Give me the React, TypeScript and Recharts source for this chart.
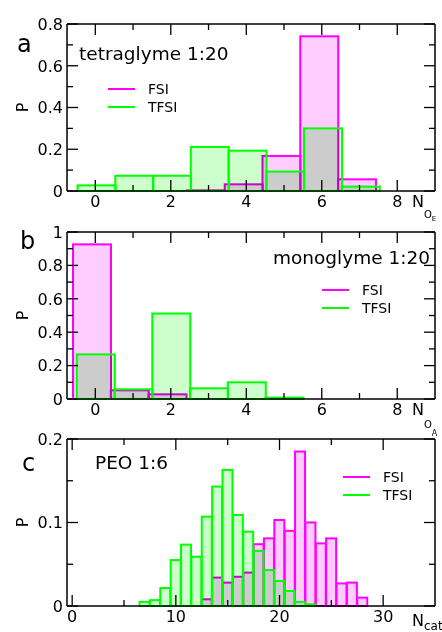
import React from "react";
import { ComposedChart, Bar, XAxis, YAxis, Legend, ReferenceLine } from "recharts";

// a: tetraglyme 1:20, coordination number by ether oxygens
const binsA = [0, 1, 2, 3, 4, 5, 6, 7];
const fsiA = [null, null, null, 0.003, 0.032, 0.168, 0.741, 0.056];
const tfsiA = [0.027, 0.073, 0.073, 0.211, 0.193, 0.093, 0.3, 0.021];

// b: monoglyme 1:20, coordination number by anion oxygens
const binsB = [0, 1, 2, 3, 4, 5];
const fsiB = [0.926, 0.052, 0.028, null, null, null];
const tfsiB = [0.267, 0.058, 0.512, 0.064, 0.1, 0.008];

// c: PEO 1:6, cation neighbours
const binsC = [7, 8, 9, 10, 11, 12, 13, 14, 15, 16, 17, 18, 19, 20, 21, 22, 23, 24, 25, 26, 27, 28];
const fsiC = [null, null, null, null, null, null, 0.008, 0.034, 0.028, 0.035, 0.04, 0.074, 0.081, 0.103, 0.09, 0.185, 0.1, 0.075, 0.081, 0.027, 0.028, 0.01];
const tfsiC = [0.005, 0.007, 0.0215, 0.055, 0.0735, 0.059, 0.107, 0.143, 0.163, 0.109, 0.089, 0.066, 0.043, 0.03, 0.018, 0.005, 0.002, null, null, null, null, null];

const xMajorAB = [0, 2, 4, 6, 8];
const xMinorAB = [1, 3, 5, 7];
const xMajorC = [0, 10, 20, 30];
const xMinorC = [5, 15, 25];
const yMajorA = [0, 0.2, 0.4, 0.6, 0.8];
const yMinorA = [0.1, 0.3, 0.5, 0.7];
const yMajorB = [0, 0.2, 0.4, 0.6, 0.8, 1];
const yMinorB = [0.1, 0.3, 0.5, 0.7, 0.9];
const yMajorC = [0, 0.1, 0.2];
const yMinorC = [0.05, 0.15];

const FONT = "DejaVu Sans";
const W = 442;
const PLOT_H = 167;
const TOP_PAD = 12;
const BOTTOM_AXIS = 30;
const LEFT_AXIS = 67;
const RIGHT_PAD = 7;
const PLOT_W = W - LEFT_AXIS - RIGHT_PAD;

const seriesStroke: Record<string, string> = { fsi: "#ff00ff", tfsi: "#00ff00" };

// inward ticks; the bottom axis also mirrors its ticks on the top edge, the left one on the right edge
function makeTick(side: "bottom" | "left", major: number[]) {
  return (p: any) => {
    const v = p.payload.value;
    const big = major.includes(v);
    const len = big ? 11 : 6;
    const x = p.x;
    const y = p.y;
    if (side === "bottom") {
      const yt = y - PLOT_H;
      return (
        <g>
          <line x1={x} y1={y} x2={x} y2={y - len} stroke="#000" strokeWidth={1.3} />
          <line x1={x} y1={yt} x2={x} y2={yt + len} stroke="#000" strokeWidth={1.3} />
          {big && (
            <text x={x} y={y + 16} textAnchor="middle" fontSize={16} fontFamily={FONT} fill="#000">
              {String(v)}
            </text>
          )}
        </g>
      );
    }
    const xr = x + PLOT_W;
    return (
      <g>
        <line x1={x} y1={y} x2={x + len} y2={y} stroke="#000" strokeWidth={1.3} />
        <line x1={xr} y1={y} x2={xr - len} y2={y} stroke="#000" strokeWidth={1.3} />
        {big && (
          <text x={x - 4} y={y} dy="0.36em" textAnchor="end" fontSize={16} fontFamily={FONT} fill="#000">
            {String(v)}
          </text>
        )}
      </g>
    );
  };
}

// fill blends (multiply) so overlapping bins turn grey; outline is drawn plainly on top
const histShape = (shift: number) => (p: any) => {
  if (!p.height || p.height <= 0 || !p.width) return <g />;
  const x = p.x + shift * p.width;
  return (
    <g>
      <rect x={x} y={p.y} width={p.width} height={p.height} fill={p.fill} stroke="none" style={{ mixBlendMode: "multiply" }} />
      <rect x={x} y={p.y} width={p.width} height={p.height} fill="none" stroke={p.stroke} strokeWidth={2} />
    </g>
  );
};

function LegendBox({ payload }: any) {
  return (
    <div style={{ fontFamily: FONT, fontSize: 14, color: "#000" }}>
      {(payload || []).map((e: any) => (
        <div key={e.value} style={{ display: "flex", alignItems: "center", height: 18 }}>
          <svg width={40} height={18}>
            <line x1={0} x2={27} y1={9} y2={9} stroke={seriesStroke[e.dataKey]} strokeWidth={2} />
          </svg>
          <span>{e.value}</span>
        </div>
      ))}
    </div>
  );
}

interface PanelProps {
  top: number;
  bins: number[];
  fsi: (number | null)[];
  tfsi: (number | null)[];
  xDomain: [number, number];
  xMajor: number[];
  xMinor: number[];
  yDomain: [number, number];
  yMajor: number[];
  yMinor: number[];
  fsiShift: number;
  tfsiShift: number;
  legendX: number;
  legendY: number;
}

function Panel(props: PanelProps) {
  const rows = props.bins.map((b, i) => ({ bin: b, fsi: props.fsi[i], tfsi: props.tfsi[i] }));
  const xTicks = [...props.xMajor, ...props.xMinor];
  const yTicks = [...props.yMajor, ...props.yMinor];
  const axisLine = { stroke: "#000", strokeWidth: 1.5 };
  const chartTop = props.top - TOP_PAD;
  return (
    <div style={{ position: "absolute", left: 0, top: chartTop }}>
      <ComposedChart
        width={W}
        height={TOP_PAD + PLOT_H + BOTTOM_AXIS}
        data={rows}
        margin={{ top: TOP_PAD, right: RIGHT_PAD, bottom: 0, left: 0 }}
        barCategoryGap={0}
        barGap={0}
      >
        <XAxis
          xAxisId="bx"
          dataKey="bin"
          type="number"
          domain={props.xDomain}
          ticks={xTicks}
          interval={0}
          tickSize={0}
          tickMargin={0}
          tickLine={false}
          axisLine={axisLine}
          height={BOTTOM_AXIS}
          tick={makeTick("bottom", props.xMajor)}
        />
        <XAxis xAxisId="tx" dataKey="bin" type="number" domain={props.xDomain} hide />
        <YAxis
          yAxisId="ly"
          type="number"
          domain={props.yDomain}
          ticks={yTicks}
          interval={0}
          tickSize={0}
          tickMargin={0}
          tickLine={false}
          axisLine={axisLine}
          width={LEFT_AXIS}
          tick={makeTick("left", props.yMajor)}
        />
        <ReferenceLine xAxisId="bx" yAxisId="ly" y={props.yDomain[1]} stroke="#000" strokeWidth={1.5} ifOverflow="visible" />
        <ReferenceLine xAxisId="bx" yAxisId="ly" x={props.xDomain[1]} stroke="#000" strokeWidth={1.5} ifOverflow="visible" />
        <Legend
          layout="vertical"
          align="center"
          verticalAlign="middle"
          wrapperStyle={{ left: props.legendX, top: props.legendY - chartTop, width: "auto" }}
          content={<LegendBox />}
        />
        <Bar
          name="FSI"
          dataKey="fsi"
          xAxisId="bx"
          yAxisId="ly"
          fill="#ffccff"
          stroke="#ff00ff"
          isAnimationActive={false}
          shape={histShape(props.fsiShift)}
        />
        <Bar
          name="TFSI"
          dataKey="tfsi"
          xAxisId="tx"
          yAxisId="ly"
          fill="#ccffcc"
          stroke="#00ff00"
          isAnimationActive={false}
          shape={histShape(props.tfsiShift)}
        />
      </ComposedChart>
    </div>
  );
}

export default function App() {
  const txt = { fontFamily: FONT, fill: "#000" };
  return (
    <div style={{ position: "absolute", left: 0, top: 0, width: W, height: 632, background: "#fff", overflow: "hidden" }}>
      <Panel
        top={24}
        bins={binsA}
        fsi={fsiA}
        tfsi={tfsiA}
        xDomain={[-0.75, 9]}
        xMajor={xMajorAB}
        xMinor={xMinorAB}
        yDomain={[0, 0.8]}
        yMajor={yMajorA}
        yMinor={yMinorA}
        fsiShift={-0.07}
        tfsiShift={0.03}
        legendX={108}
        legendY={80}
      />
      <Panel
        top={232}
        bins={binsB}
        fsi={fsiB}
        tfsi={tfsiB}
        xDomain={[-0.75, 9]}
        xMajor={xMajorAB}
        xMinor={xMinorAB}
        yDomain={[0, 1]}
        yMajor={yMajorB}
        yMinor={yMinorB}
        fsiShift={-0.09}
        tfsiShift={0.01}
        legendX={322}
        legendY={281}
      />
      <Panel
        top={439}
        bins={binsC}
        fsi={fsiC}
        tfsi={tfsiC}
        xDomain={[-0.5, 35]}
        xMajor={xMajorC}
        xMinor={xMinorC}
        yDomain={[0, 0.2]}
        yMajor={yMajorC}
        yMinor={yMinorC}
        fsiShift={0}
        tfsiShift={0}
        legendX={343}
        legendY={468}
      />
      <svg width={W} height={632} style={{ position: "absolute", left: 0, top: 0, pointerEvents: "none" }}>
        <text x={17} y={52} fontSize={24} {...txt}>a</text>
        <text x={79} y={59.5} fontSize={18.5} {...txt}>tetraglyme 1:20</text>
        <text x={22} y={107.5} fontSize={16} textAnchor="middle" dy="0.36em" transform="rotate(-90 22 107.5)" {...txt}>P</text>
        <text x={412} y={207} fontSize={16} {...txt}>
          N<tspan fontSize={10} dy={11}>O</tspan><tspan fontSize={7} dy={3}>E</tspan>
        </text>

        <text x={20} y={249} fontSize={24} {...txt}>b</text>
        <text x={430} y={263.5} fontSize={18.5} textAnchor="end" {...txt}>monoglyme 1:20</text>
        <text x={22} y={315.5} fontSize={16} textAnchor="middle" dy="0.36em" transform="rotate(-90 22 315.5)" {...txt}>P</text>
        <text x={412} y={415} fontSize={16} {...txt}>
          N<tspan fontSize={10} dy={13}>O</tspan><tspan fontSize={8} dy={8}>A</tspan>
        </text>

        <text x={22} y={471} fontSize={24} {...txt}>c</text>
        <text x={95} y={468.5} fontSize={18.5} {...txt}>PEO 1:6</text>
        <text x={22} y={522.5} fontSize={16} textAnchor="middle" dy="0.36em" transform="rotate(-90 22 522.5)" {...txt}>P</text>
        <text x={412} y={626} fontSize={16} {...txt}>
          N<tspan fontSize={12} dy={4}>cat</tspan>
        </text>
      </svg>
    </div>
  );
}
